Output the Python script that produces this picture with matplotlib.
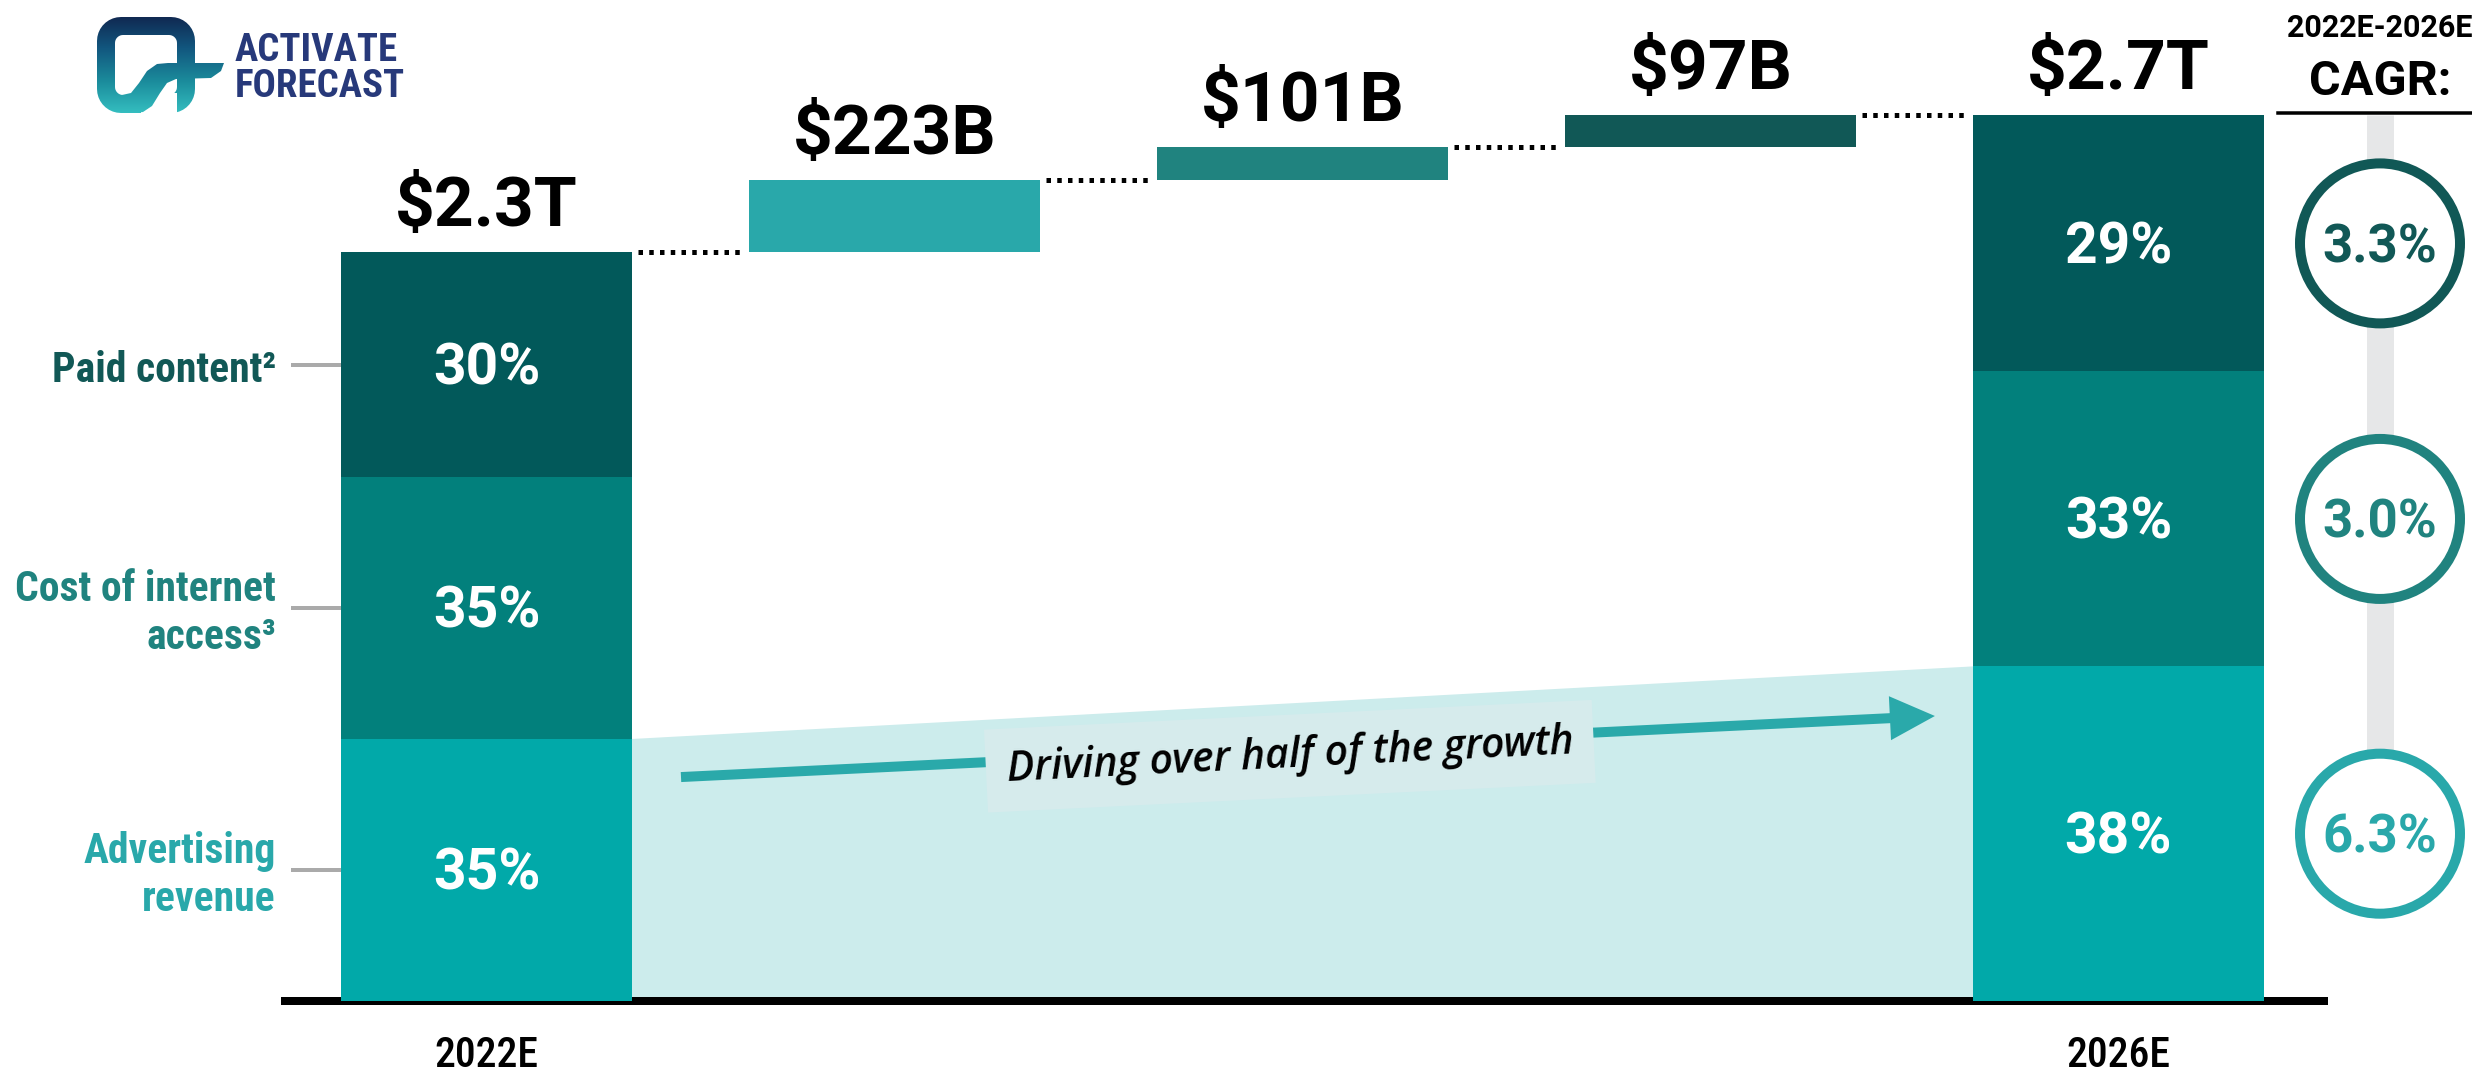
import numpy as np
import matplotlib
matplotlib.use('Agg')
import matplotlib.pyplot as plt
from matplotlib import font_manager
from matplotlib.path import Path
from matplotlib.patches import PathPatch, Rectangle
from matplotlib.colors import LinearSegmentedColormap

# ---- data (values in $B) ----
years = ['2022E', '2026E']
segments = ['Advertising\nrevenue', 'Cost of internet\naccess³', 'Paid content²']
total_2022 = 2300
share_2022 = [35, 35, 30]          # % of 2022E total, bottom -> top
increments = [223, 101, 97]        # growth per segment 2022E -> 2026E
share_2026 = [38, 33, 29]          # % shown on 2026E bar
cagr_labels = ['6.3%', '3.0%', '3.3%']
top_labels = ['$2.3T', '$223B', '$101B', '$97B', '$2.7T']

seg_2022 = [total_2022 * s / 100 for s in share_2022]
seg_2026 = [a + b for a, b in zip(seg_2022, increments)]
total_2026 = sum(seg_2026)

# ---- colours ----
bar_colors = ['#01A9A9', '#02807C', '#02595A']
step_colors = ['#29A8AA', '#20837F', '#115856']
shade = '#CCECEC'

names = {f.name for f in font_manager.fontManager.ttflist}
COND = 'Roboto Condensed' in names
cond_family = ['Roboto Condensed', 'Roboto'] if COND else ['Roboto']

# ---- figure / axes mapping (pixel layout of the reference) ----
W, H = 2472, 1076
X0_PX, STEP_PX, BASE_PX, PX_PER_B = 486.5, 408, 1001, 0.3255
fig = plt.figure(figsize=(W / 100, H / 100), dpi=100)
ax = fig.add_axes([0, 0, 1, 1])
ax.set_xlim(-X0_PX / STEP_PX, (W - X0_PX) / STEP_PX)
ax.set_ylim(-(H - BASE_PX) / PX_PER_B, BASE_PX / PX_PER_B)
ax.axis('off')

bw = 0.713
PT = 0.72  # points per pixel

# shaded area under advertising
ax.fill([bw / 2, 4 - bw / 2, 4 - bw / 2, bw / 2],
        [seg_2022[0], seg_2026[0], 0, 0], color=shade, lw=0, zorder=1)

# baseline
ax.plot([-0.504, 4.513], [0, 0], color='black', lw=8 * PT,
        solid_capstyle='butt', zorder=1.5)

# stacked bars
def stacked(x, vals, shares):
    bottom = 0
    centers = []
    for v, s, c in zip(vals, shares, bar_colors):
        ax.bar(x, v, bottom=bottom, width=bw, color=c, lw=0, zorder=2)
        yc = bottom + v / 2
        centers.append(yc)
        ax.annotate(f'{s}%', (x, yc), xytext=(0, -20 * PT), textcoords='offset points',
                    ha='center', va='baseline', color='white', fontsize=41,
                    fontweight='bold', family='Roboto', zorder=4)
        bottom += v
    return centers

c22 = stacked(0, seg_2022, share_2022)
c26 = stacked(4, seg_2026, share_2026)

# waterfall steps
running = total_2022
tops = [total_2022]
for i, (inc, c) in enumerate(zip(increments, step_colors)):
    ax.bar(i + 1, inc, bottom=running, width=bw, color=c, lw=0, zorder=2)
    running += inc
    tops.append(running)
tops.append(total_2026)

# dotted connectors
for i in range(4):
    ax.plot([i + bw / 2 + 0.015, i + 1 - bw / 2 - 0.01], [tops[i], tops[i]],
            color='black', lw=5 * PT, linestyle=(0, (0.9, 1.25)),
            dash_capstyle='butt', zorder=2)

# value labels above bars
for i, (lab, t) in enumerate(zip(top_labels, tops)):
    ax.annotate(lab, (i, t), xytext=(0, 26 * PT), textcoords='offset points',
                ha='center', va='baseline', fontsize=50, fontweight='bold',
                family='Roboto', color='black')

# year labels
for x, y in zip([0, 4], years):
    ax.annotate(y, (x, 0), xytext=(0, -66 * PT), textcoords='offset points',
                ha='center', va='baseline', fontsize=30 if COND else 28,
                family=cond_family, fontweight='medium', color='black')

# segment labels on the left
label_x = -0.516
lsize = 30 if COND else 24
for yc, lab, col in zip(c22, segments, step_colors):
    ax.plot([-0.475, -bw / 2], [yc, yc], color='#AAAAAA', lw=4 * PT, zorder=1)
    lines = lab.split('\n')
    first = 17 - (len(lines) - 1) * 48 / 2
    for k, ln in enumerate(lines):
        ax.annotate(ln, (label_x, yc), xytext=(0, -(first + 48 * k) * PT),
                    textcoords='offset points', ha='right', va='baseline',
                    fontsize=lsize, fontweight='bold', family=cond_family, color=col)

# growth arrow + caption
ax.annotate('', xy=(3.550, 875.6), xytext=(0.4767, 688),
            arrowprops=dict(arrowstyle='simple,head_length=32.4,head_width=31.7,tail_width=7.2',
                            mutation_scale=1, color='#2AA9AA', lw=0,
                            shrinkA=0, shrinkB=0), zorder=3)
ax.text(1.969, 752, 'Driving over half of the growth', rotation=2.8,
        rotation_mode='anchor', ha='center', va='center', fontsize=29.5,
        fontstyle='italic', fontweight='semibold', family='Open Sans', color='black',
        bbox=dict(boxstyle='square,pad=0.5', fc='#D6EBEC', ec='none'), zorder=4)

# CAGR column
xc = (2380 - X0_PX) / STEP_PX
ax.plot([xc, xc], [c26[0], total_2026], color='#E6E7E8', lw=27 * PT,
        solid_capstyle='butt', zorder=3)
ax.scatter([xc] * 3, c26, s=(160 * PT) ** 2, facecolor='white',
           edgecolor=step_colors, linewidths=10 * PT, zorder=5)
for yc, lab, col in zip(c26, cagr_labels, step_colors):
    ax.annotate(lab, (xc, yc), xytext=(0, -19 * PT), textcoords='offset points',
                ha='center', va='baseline', fontsize=38, fontweight='bold',
                family='Roboto', color=col, zorder=6)

# ---- overlay in pixel units: header + logo ----
px = fig.add_axes([0, 0, 1, 1])
px.axis('off')
px.text(2380, 37, '2022E-2026E', ha='center', va='baseline', fontsize=22,
        fontweight='bold', family='Roboto')
px.text(2380, 95, 'CAGR:', ha='center', va='baseline', fontsize=35,
        fontweight='bold', family='Roboto')
px.plot([2278, 2472], [113, 113], color='black', lw=3.5 * PT)


def rrect(x0, y0, x1, y1, r, n=10):
    pts = []
    for cx, cy, a0, a1 in [(x1 - r, y0 + r, -90, 0), (x1 - r, y1 - r, 0, 90),
                           (x0 + r, y1 - r, 90, 180), (x0 + r, y0 + r, 180, 270)]:
        for a in np.radians(np.linspace(a0, a1, n)):
            pts.append((cx + r * np.cos(a), cy + r * np.sin(a)))
    pts.append(pts[0])
    return np.array(pts)


cmap = LinearSegmentedColormap.from_list('logo', ['#10264F', '#12577F', '#1B8C9C', '#36C1C2'])
grad = np.linspace(0, 1, 256)[:, None]


def grad_shape(path, z):
    patch = PathPatch(path, fc='none', ec='none', transform=px.transData)
    px.add_patch(patch)
    im = px.imshow(grad, extent=(95, 228, 115, 15), cmap=cmap, aspect='auto',
                   interpolation='bilinear', zorder=z)
    im.set_clip_path(patch)


outer = rrect(97, 17, 195, 113, 24)
inner = rrect(115, 35, 177, 95, 8)[::-1]
ring = Path.make_compound_path(Path(outer, closed=True), Path(inner, closed=True))
grad_shape(ring, 2)
px.add_patch(Rectangle((141, 93), 36, 22, fc='white', ec='none', zorder=3))
swoosh = np.array([(122, 95), (131, 93), (139, 83), (147, 71), (157, 64), (168, 63),
                   (224, 63), (221, 71), (211, 78), (176, 79), (167, 83), (160, 93),
                   (152, 106), (143, 112), (133, 113), (122, 113), (122, 95)])
grad_shape(Path(swoosh, closed=True), 4)

lfam = cond_family
lsz = 28 if COND else 22
px.text(235, 61, 'ACTIVATE', ha='left', va='baseline', fontsize=lsz,
        fontweight='bold', family=lfam, color='#27397A')
px.text(235, 97, 'FORECAST', ha='left', va='baseline', fontsize=lsz,
        fontweight='bold', family=lfam, color='#27397A')

px.set_xlim(0, W)
px.set_ylim(H, 0)

fig.savefig('out.png', dpi=100)
